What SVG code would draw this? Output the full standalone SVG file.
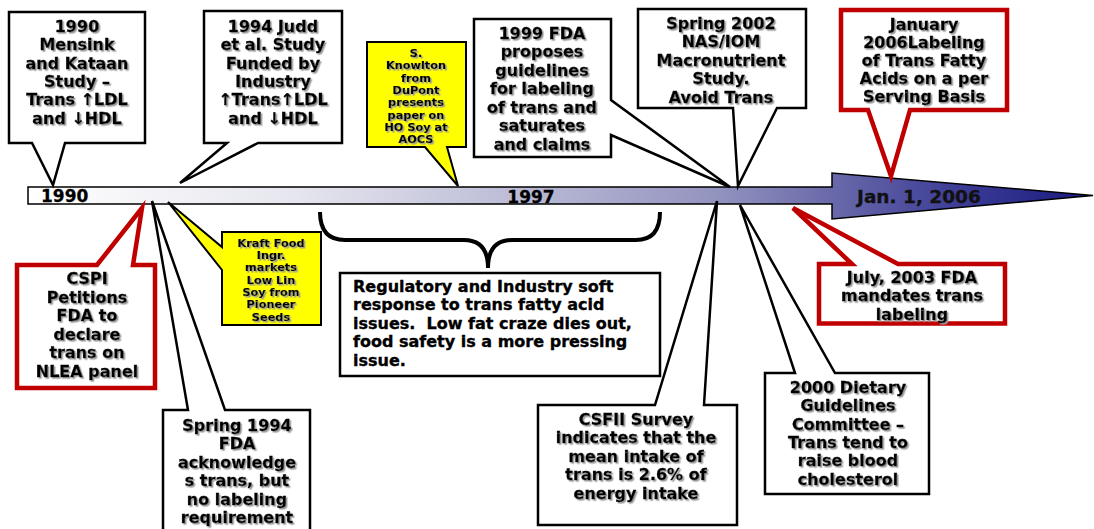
<svg xmlns="http://www.w3.org/2000/svg" width="1094" height="529" viewBox="0 0 1094 529">
<defs>
<linearGradient id="tl" x1="28" y1="0" x2="1093" y2="0" gradientUnits="userSpaceOnUse">
<stop offset="0" stop-color="#ffffff"/>
<stop offset="0.25" stop-color="#e6e6ef"/>
<stop offset="0.47" stop-color="#b9b9d5"/>
<stop offset="0.65" stop-color="#9292bf"/>
<stop offset="0.75" stop-color="#6b6bab"/>
<stop offset="0.88" stop-color="#3a3a95"/>
<stop offset="1" stop-color="#1a1a80"/>
</linearGradient>
<filter id="sh" x="-10%" y="-10%" width="120%" height="120%">
<feDropShadow dx="1.5" dy="1.5" stdDeviation="0.4" flood-color="#9a9a9a" flood-opacity="1"/>
</filter>
</defs>
<style>
.box{fill:#fff;stroke:#000;stroke-width:2.5;stroke-linejoin:miter}
.red{fill:#fff;stroke:#c00000;stroke-width:4.5;stroke-linejoin:miter}
.yel{fill:#ffff00;stroke:#000;stroke-width:2;stroke-linejoin:miter}
text{font-family:"DejaVu Sans","Liberation Sans",sans-serif;font-weight:bold;fill:#000}
.t{font-size:16px;text-anchor:middle;stroke:#000;stroke-width:0.35}
.s{font-size:11.3px;text-anchor:middle;stroke:#000;stroke-width:0.2}
.r{font-size:16px;stroke:#000;stroke-width:0.35}
.sh{filter:url(#sh)}
.lbl{font-size:17px;stroke:#000;stroke-width:0.3}
</style>
<rect width="1094" height="529" fill="#fff"/>

<g id="timeline">
<polygon points="28,187 832,187 832,173 1093,195.5 832,219 832,204 28,204" fill="url(#tl)" stroke="#000" stroke-width="1.5"/>
<text class="lbl" x="41" y="202">1990</text>
<text class="lbl" x="531" y="203" text-anchor="middle">1997</text>
<text x="857" y="202.5" style="font-size:18.5px;fill:#111;stroke:#111;stroke-width:0.3">Jan. 1, 2006</text>
</g>

<g id="connectors">
<path d="M320,212 Q320,240 345,240 L464,240 Q488,240 488,268 Q488,240 512,240 L636,240 Q660,240 660,212" fill="none" stroke="#000" stroke-width="4"/>
</g>

<g id="n-mensink">
<path class="box" d="M9,12 H145 V143 H65 L53,185 L32,143 H9 Z"/>
<g class="sh">
<text class="t" x="77" y="32">1990</text>
<text class="t" x="77" y="50.3">Mensink</text>
<text class="t" x="77" y="68.6">and Kataan</text>
<text class="t" x="77" y="86.9">Study –</text>
<text class="t" x="77" y="105.2">Trans ↑LDL</text>
<text class="t" x="77" y="123.5">and ↓HDL</text>
</g>
</g>

<g id="n-judd">
<path class="box" d="M204,11 H342 V143 H258 L180,183 L227,143 H204 Z"/>
<g class="sh">
<text class="t" x="273" y="32">1994 Judd</text>
<text class="t" x="273" y="50.3">et al. Study</text>
<text class="t" x="273" y="68.6">Funded by</text>
<text class="t" x="273" y="86.9">Industry</text>
<text class="t" x="273" y="105.2">↑Trans↑LDL</text>
<text class="t" x="273" y="123.5">and ↓HDL</text>
</g>
</g>

<g id="n-knowlton">
<path class="yel" d="M367,42 H466 V147 H447 L458,186 L425,147 H367 Z"/>
<g class="sh">
<text class="s" x="416" y="57">S.</text>
<text class="s" x="416" y="69.3">Knowlton</text>
<text class="s" x="416" y="81.6">from</text>
<text class="s" x="416" y="93.9">DuPont</text>
<text class="s" x="416" y="106.2">presents</text>
<text class="s" x="416" y="118.5">paper on</text>
<text class="s" x="416" y="130.8">HO Soy at</text>
<text class="s" x="416" y="143.1">AOCS</text>
</g>
</g>

<g id="n-fda1999">
<path class="box" d="M474,19 H611 V100 L730,187 L611,135 V157 H474 Z"/>
<g class="sh">
<text class="t" x="542" y="38.5">1999 FDA</text>
<text class="t" x="542" y="57">proposes</text>
<text class="t" x="542" y="75.5">guidelines</text>
<text class="t" x="542" y="94">for labeling</text>
<text class="t" x="542" y="112.5">of trans and</text>
<text class="t" x="542" y="131">saturates</text>
<text class="t" x="542" y="149.5">and claims</text>
</g>
</g>

<g id="n-nas2002">
<path class="box" d="M638,9 H806 V108 H777 L738,186 L733,108 H638 Z"/>
<g class="sh">
<text class="t" x="721" y="29">Spring 2002</text>
<text class="t" x="721" y="47.4">NAS/IOM</text>
<text class="t" x="721" y="65.8">Macronutrient</text>
<text class="t" x="721" y="84.2">Study.</text>
<text class="t" x="721" y="102.6">Avoid Trans</text>
</g>
</g>

<g id="n-jan2006">
<path class="red" d="M841,10 H1007 V110 H910 L891,176 L868,110 H841 Z"/>
<g class="sh">
<text class="t" x="924" y="29.5">January</text>
<text class="t" x="924" y="47.7">2006Labeling</text>
<text class="t" x="924" y="65.9">of Trans Fatty</text>
<text class="t" x="924" y="84.1">Acids on a per</text>
<text class="t" x="924" y="102.3">Serving Basis</text>
</g>
</g>

<g id="n-cspi">
<path class="red" d="M17,265 H97 L142,208 L133,265 H155 V388 H17 Z"/>
<g class="sh">
<text class="t" x="87" y="284">CSPI</text>
<text class="t" x="87" y="302.6">Petitions</text>
<text class="t" x="87" y="321.2">FDA to</text>
<text class="t" x="87" y="339.8">declare</text>
<text class="t" x="87" y="358.4">trans on</text>
<text class="t" x="87" y="377">NLEA panel</text>
</g>
</g>

<g id="n-kraft">
<path class="yel" d="M222,232 H321 V325 H222 V270 L168,202 L222,247 Z"/>
<g class="sh">
<text class="s" x="271" y="246.7">Kraft Food</text>
<text class="s" x="271" y="259">Ingr.</text>
<text class="s" x="271" y="271.3">markets</text>
<text class="s" x="271" y="283.6">Low Lin</text>
<text class="s" x="271" y="295.9">Soy from</text>
<text class="s" x="271" y="308.2">Pioneer</text>
<text class="s" x="271" y="320.5">Seeds</text>
</g>
</g>

<g id="n-fda1994">
<path class="box" d="M163,410 H188 L152,201 L225,410 H310 V540 H163 Z"/>
<g class="sh">
<text class="t" x="237" y="430.8">Spring 1994</text>
<text class="t" x="237" y="449.3">FDA</text>
<text class="t" x="237" y="467.8">acknowledge</text>
<text class="t" x="237" y="486.3">s trans, but</text>
<text class="t" x="237" y="504.8">no labeling</text>
<text class="t" x="237" y="523.3">requirement</text>
</g>
</g>

<g id="n-regulatory">
<rect class="box" x="340" y="273" width="320" height="103"/>
<text class="r" x="353" y="291.5">Regulatory and Industry soft</text>
<text class="r" x="353" y="310">response to trans fatty acid</text>
<text class="r" x="353" y="328.5" style="white-space:pre" xml:space="preserve">issues.  Low fat craze dies out,</text>
<text class="r" x="353" y="347">food safety is a more pressing</text>
<text class="r" x="353" y="365.5">issue.</text>
</g>

<g id="n-csfii">
<path class="box" d="M538,405 H655 L717,201 L704,405 H737 V525 H538 Z"/>
<g class="sh">
<text class="t" x="636" y="424.5">CSFII Survey</text>
<text class="t" x="636" y="443">indicates that the</text>
<text class="t" x="636" y="461.5">mean intake of</text>
<text class="t" x="636" y="480">trans is 2.6% of</text>
<text class="t" x="636" y="498.5">energy intake</text>
</g>
</g>

<g id="n-dietary">
<path class="box" d="M765,373 H795 L740,205 L835,373 H929 V494 H765 Z"/>
<g class="sh">
<text class="t" x="848" y="393">2000 Dietary</text>
<text class="t" x="848" y="411.3">Guidelines</text>
<text class="t" x="848" y="429.6">Committee –</text>
<text class="t" x="848" y="447.9">Trans tend to</text>
<text class="t" x="848" y="466.2">raise blood</text>
<text class="t" x="848" y="484.5">cholesterol</text>
</g>
</g>

<g id="n-july2003">
<path class="red" d="M819,264 H852 L793,208 L898,264 H1005 V323.5 H819 Z"/>
<g class="sh">
<text class="t" x="912" y="282.5">July, 2003 FDA</text>
<text class="t" x="912" y="301">mandates trans</text>
<text class="t" x="912" y="319.5">labeling</text>
</g>
</g>
</svg>
